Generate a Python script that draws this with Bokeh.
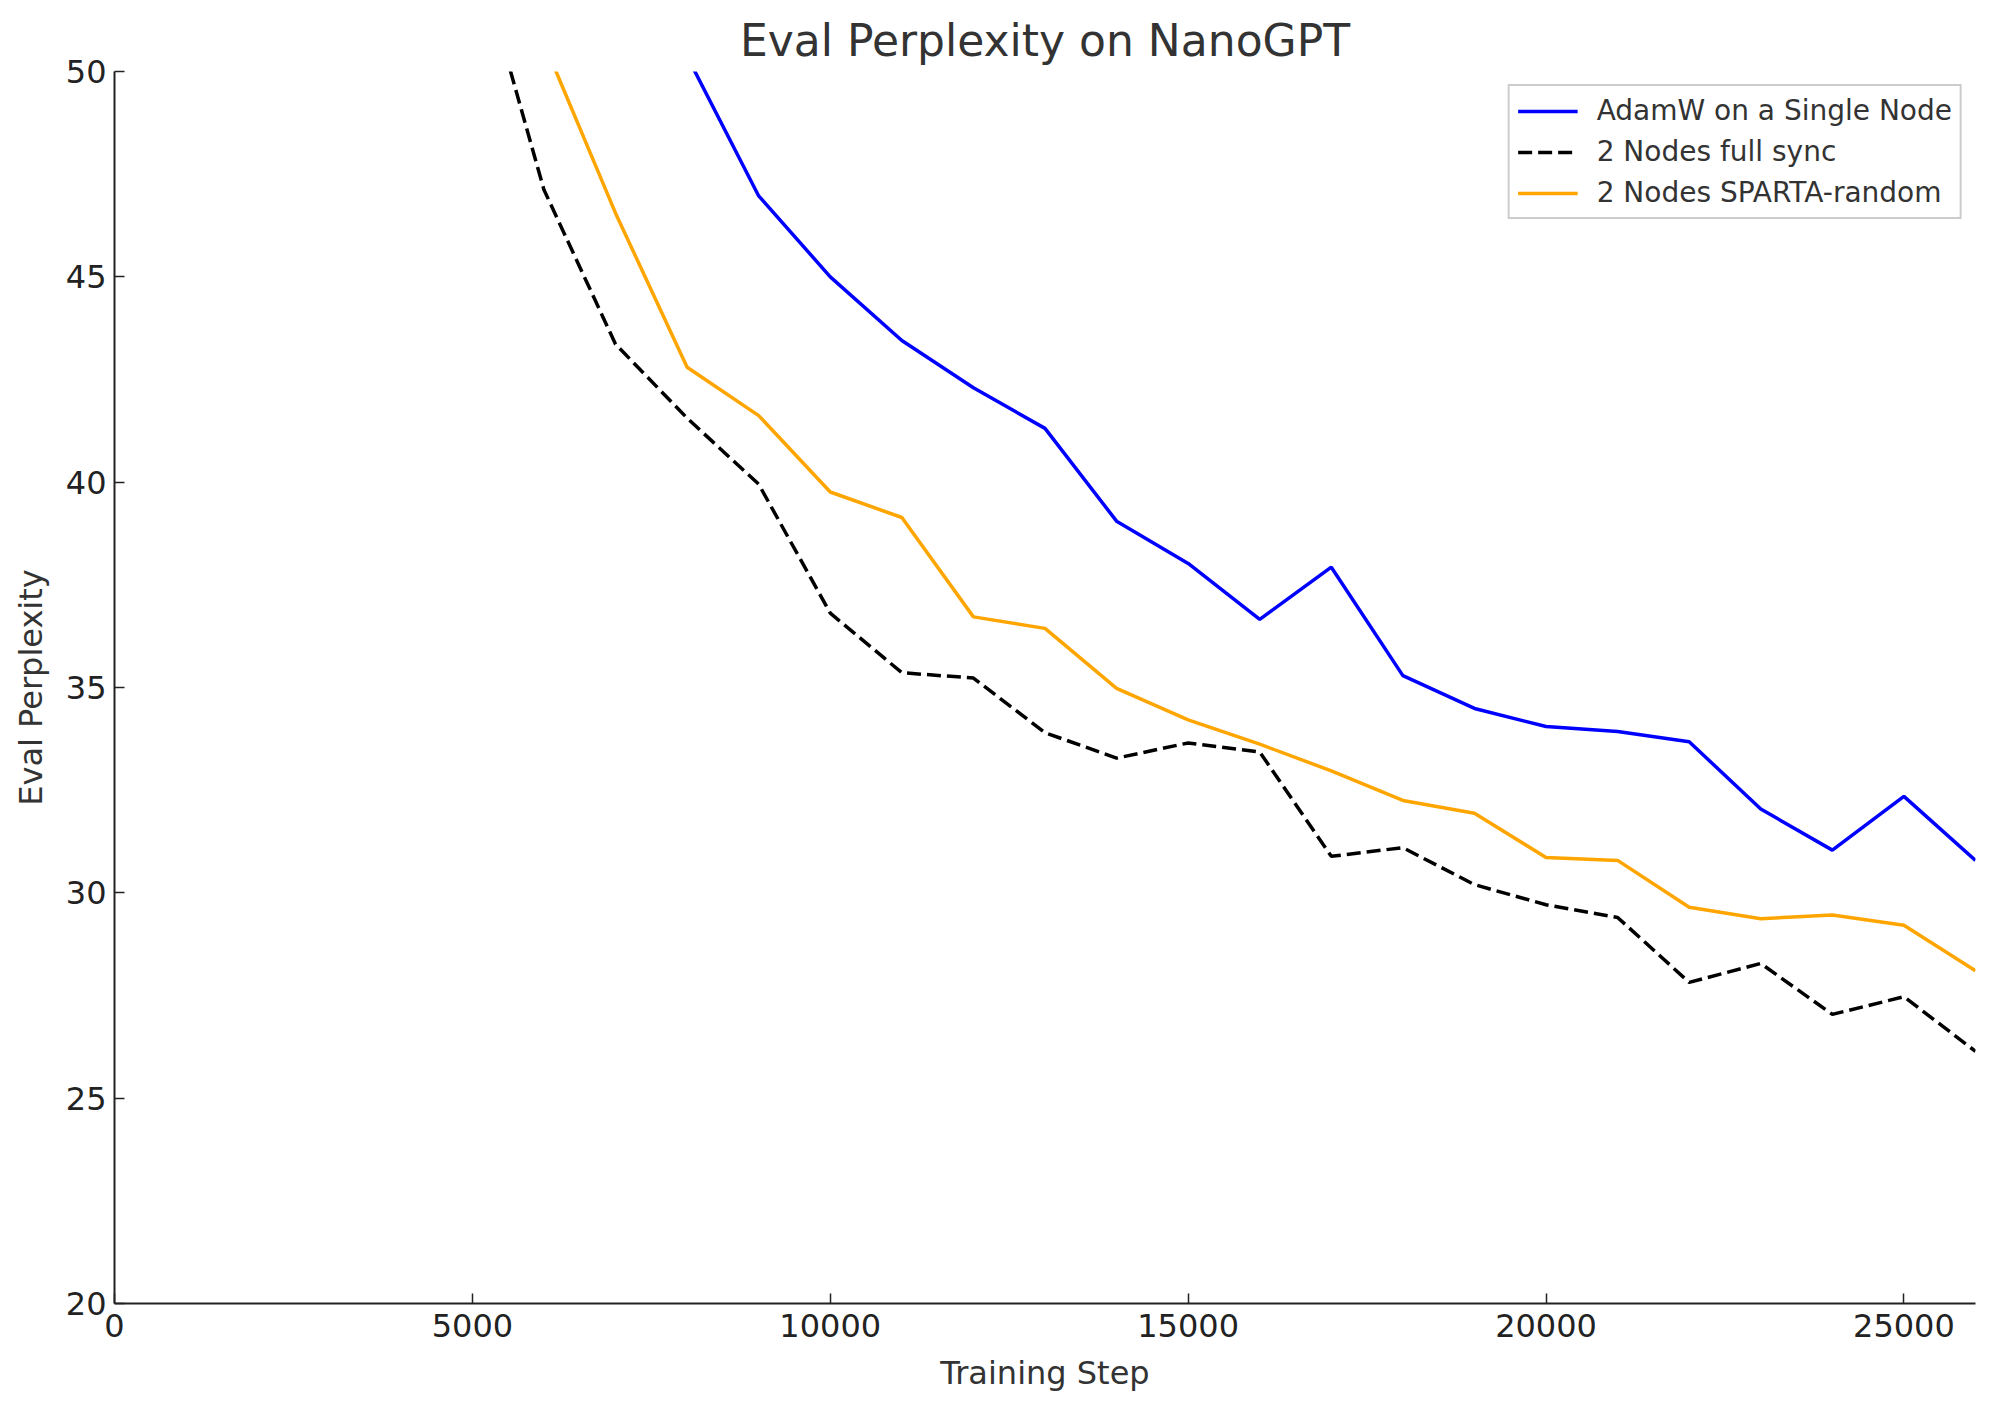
from bokeh.plotting import figure
from bokeh.models import Range1d, FixedTicker, Legend, LegendItem
from bokeh.embed import file_html
from bokeh.resources import INLINE

# ---- data ----
steps_adamw = [8000, 9000, 10000, 11000, 12000, 13000, 14000, 15000, 16000, 17000,
               18000, 19000, 20000, 21000, 22000, 23000, 24000, 25000, 26000]
ppl_adamw = [50.37, 46.97, 45.0, 43.45, 42.3, 41.31, 39.05, 38.02, 36.66, 37.93,
             35.29, 34.49, 34.05, 33.93, 33.68, 32.04, 31.04, 32.35, 30.79]

steps_full = [5000, 6000, 7000, 8000, 9000, 10000, 11000, 12000, 13000, 14000, 15000,
              16000, 17000, 18000, 19000, 20000, 21000, 22000, 23000, 24000, 25000, 26000]
ppl_full = [53.3, 47.12, 43.36, 41.56, 39.95, 36.81, 35.36, 35.23, 33.9, 33.28, 33.65,
            33.43, 30.89, 31.1, 30.2, 29.71, 29.4, 27.82, 28.28, 27.04, 27.47, 26.14]

steps_sparta = [6000, 7000, 8000, 9000, 10000, 11000, 12000, 13000, 14000, 15000, 16000,
                17000, 18000, 19000, 20000, 21000, 22000, 23000, 24000, 25000, 26000]
ppl_sparta = [50.7, 46.55, 42.8, 41.62, 39.76, 39.14, 36.72, 36.44, 34.98, 34.21, 33.62,
              32.97, 32.25, 31.94, 30.86, 30.79, 29.65, 29.37, 29.46, 29.21, 28.1]

x_ticks = [0, 5000, 10000, 15000, 20000, 25000]
y_ticks = [20, 25, 30, 35, 40, 45, 50]

labels = ["AdamW on a Single Node", "2 Nodes full sync", "2 Nodes SPARTA-random"]

FONT = "DejaVu Sans"

p = figure(
    frame_width=1861, frame_height=1232,
    min_border_left=114, min_border_right=11, min_border_top=71, min_border_bottom=97,
    x_range=Range1d(0, 26000), y_range=Range1d(20, 50),
    output_backend="svg", toolbar_location=None,
    background_fill_color="white", border_fill_color="white",
)
p.outline_line_color = None
p.xgrid.visible = False
p.ygrid.visible = False

p.title.text = "Eval Perplexity on NanoGPT"
p.title.align = "center"
p.title.text_font = FONT
p.title.text_font_size = "44px"
p.title.text_font_style = "normal"
p.title.text_color = "#333333"
p.title.offset = 0
p.title.standoff = 11

for ax in (p.xaxis[0], p.yaxis[0]):
    ax.axis_line_color = "#222222"
    ax.axis_line_width = 2
    ax.major_tick_line_color = "#222222"
    ax.major_tick_line_width = 1.5
    ax.major_tick_in = 10
    ax.major_tick_out = 0
    ax.minor_tick_in = 0
    ax.minor_tick_out = 0
    ax.major_label_text_font = FONT
    ax.major_label_text_font_size = "32px"
    ax.major_label_text_color = "#222222"
    ax.axis_label_text_font = FONT
    ax.axis_label_text_font_size = "32px"
    ax.axis_label_text_font_style = "normal"
    ax.axis_label_text_color = "#333333"

p.xaxis[0].ticker = FixedTicker(ticks=x_ticks)
p.yaxis[0].ticker = FixedTicker(ticks=y_ticks)
p.xaxis[0].major_label_standoff = 10
p.yaxis[0].major_label_standoff = 8
p.xaxis[0].axis_label = "Training Step"
p.yaxis[0].axis_label = "Eval Perplexity"
p.xaxis[0].axis_label_standoff = 14
p.yaxis[0].axis_label_standoff = 13

r1 = p.line(steps_adamw, ppl_adamw, line_color="#0000ff", line_width=3.5)
r2 = p.line(steps_full, ppl_full, line_color="#000000", line_width=3.5, line_dash="14 6")
r3 = p.line(steps_sparta, ppl_sparta, line_color="#ffa500", line_width=3.5)

legend = Legend(
    items=[LegendItem(label=labels[0], renderers=[r1]),
           LegendItem(label=labels[1], renderers=[r2]),
           LegendItem(label=labels[2], renderers=[r3])],
    location="top_right",
    margin=13, padding=8, spacing=8,
    glyph_width=60, glyph_height=30, label_height=30, label_standoff=19,
    label_text_font=FONT, label_text_font_size="28px", label_text_color="#333333",
    border_line_color="#cccccc", border_line_width=2, border_line_alpha=1.0,
    background_fill_color="white", background_fill_alpha=0.8,
)
p.add_layout(legend, "center")

open("out.html", "w").write(file_html(p, INLINE))
